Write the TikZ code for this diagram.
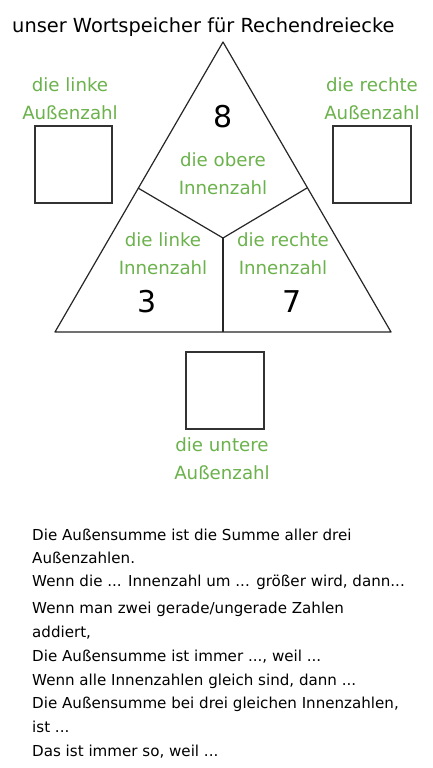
\documentclass[tikz,border=0pt]{standalone}
\usepackage{fontspec}
\setmainfont{DejaVu Sans}
\definecolor{lbl}{RGB}{107,178,76}
\definecolor{boxc}{RGB}{50,50,50}
\begin{document}
\begin{tikzpicture}[x=1pt,y=-1pt,
  lab/.style={text=lbl,font=\fontsize{18.2}{28}\selectfont,align=center,inner sep=0pt},
  num/.style={font=\fontsize{30}{30}\selectfont,inner sep=0pt},
  body/.style={font=\fontsize{15.1}{18}\selectfont,anchor=west,inner sep=0pt},
  sq/.style={draw=boxc,line width=1.3pt},
  tri/.style={draw=black!85,line width=1.2pt,line join=round}]
\useasboundingbox[fill=white] (0,0) rectangle (432,768);
\node[anchor=west,inner sep=0pt,font=\fontsize{19.4}{22}\selectfont] (title) at (12,27) {unser Wortspeicher für Rechendreiecke};
% triangle
\coordinate (A) at (223,42);
\coordinate (BL) at (55,332);
\coordinate (BR) at (391,332);
\coordinate (L) at (138,188);
\coordinate (R) at (307,188);
\coordinate (C) at (223,238);
\coordinate (M) at (223,332);
\draw[tri] (A) -- (BL) -- (BR) -- cycle;
\draw[tri] (L) -- (C) -- (R);
\draw[tri] (C) -- (M);
% outer boxes
\draw[sq] (35,126) rectangle (112,203);
\draw[sq] (333,126) rectangle (411,203);
\draw[sq] (186,352) rectangle (264,429);
% outer labels
\node[lab] (ll1) at (70,85) {die linke};
\node[lab] (ll2) at (70,113) {Außenzahl};
\node[lab] (rl1) at (372,85) {die rechte};
\node[lab] (rl2) at (372,113) {Außenzahl};
\node[lab] (ul1) at (222,445) {die untere};
\node[lab] (ul2) at (222,473) {Außenzahl};
% inner labels
\node[num] (n8) at (223,117) {8};
\node[lab] (ol1) at (223,160) {die obere};
\node[lab] (ol2) at (223,188) {Innenzahl};
\node[lab] (li1) at (163,240) {die linke};
\node[lab] (li2) at (163,268) {Innenzahl};
\node[num] (n3) at (147,302) {3};
\node[lab] (ri1) at (283,240) {die rechte};
\node[lab] (ri2) at (283,268) {Innenzahl};
\node[num] (n7) at (292,302) {7};
% body text
\node[body] (t1) at (32,535) {Die Außensumme ist die Summe aller drei};
\node[body] (t2) at (32,558) {Außenzahlen.};
\node[body] (t3) at (32,582) {Wenn die ... Innenzahl um ... größer wird, dann...};
\node[body] (t4) at (32,609) {Wenn man zwei gerade/ungerade Zahlen};
\node[body] (t5) at (32,633) {addiert,};
\node[body] (t6) at (32,657) {Die Außensumme ist immer ..., weil ...};
\node[body] (t7) at (32,681) {Wenn alle Innenzahlen gleich sind, dann ...};
\node[body] (t8) at (32,704) {Die Außensumme bei drei gleichen Innenzahlen,};
\node[body] (t9) at (32,727) {ist ...};
\node[body] (t10) at (32,752) {Das ist immer so, weil ...};
\end{tikzpicture}
\end{document}
